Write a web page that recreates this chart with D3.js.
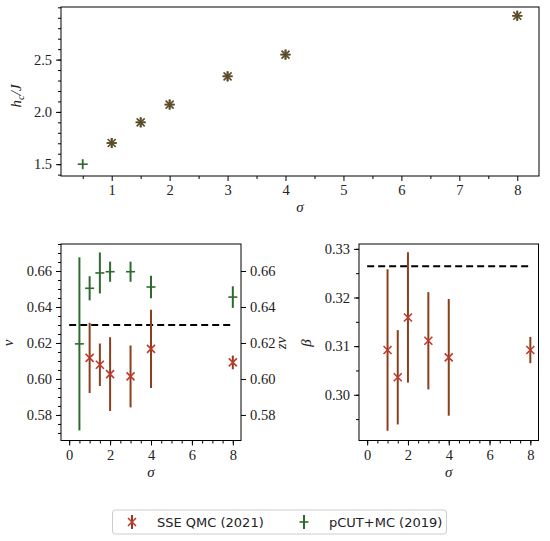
<!DOCTYPE html>
<html>
<head>
<meta charset="utf-8">
<script src="https://cdn.jsdelivr.net/npm/d3@7"></script>
<style>
  body { margin: 0; background: #fff; }
  svg text { font-family: "Liberation Serif", serif; fill: #222; }
  .leg text { font-family: "DejaVu Sans", sans-serif; }
</style>
</head>
<body>
<div id="chart"></div>
<script>
// data
var sigmaSSE = [1, 1.5, 2, 3, 4, 8];
var sigmaCUT = [0.5, 1, 1.5, 2, 3, 4, 8];
var hcSSE = [1.702, 1.90, 2.07, 2.34, 2.548, 2.919];
var hcCUT = [1.50, 1.702, 1.90, 2.07, 2.34, 2.548, 2.919];
var nuSSE = [0.6117, 0.6079, 0.6027, 0.6014, 0.6167, 0.6092];
var nuErr = [0.0195, 0.0118, 0.0205, 0.0172, 0.0217, 0.0038];
var zNuCUT = [0.6195, 0.6504, 0.6589, 0.6596, 0.6596, 0.6511, 0.6455];
var zNuErr = [0.0481, 0.0067, 0.0114, 0.0056, 0.0056, 0.0063, 0.0060];
var betaSSE = [0.3092, 0.3036, 0.3159, 0.3111, 0.3077, 0.3092];
var betaErr = [0.0166, 0.0097, 0.0134, 0.0100, 0.0120, 0.0027];
var nuRef = 0.63, betaRef = 0.3264;
var legendLabels = ["SSE QMC (2021)", "pCUT+MC (2019)"];

var red = "#c0392b", redBar = "#8b3f1c", green = "#2e6a2e";
var serif = "'Liberation Serif', 'Times New Roman', serif";

var svg = d3.select("#chart").append("svg")
  .attr("width", 550).attr("height", 541);

// style tick labels of an axis group
function styleTicks(sel) {
  sel.attr("font-family", serif).attr("font-size", 14.5);
  sel.selectAll("text").attr("font-family", serif).attr("font-size", 14.5).attr("fill", "#222");
}

// draw a framed axis box with outward ticks
function panel(x, y, box, opt) {
  var g = svg.append("g");
  var xAx = d3.axisBottom(x).tickValues(opt.xMajor).tickFormat(opt.xFmt).tickSizeOuter(0).tickSize(5).tickPadding(4);
  var yAx = d3.axisLeft(y).tickValues(opt.yMajor).tickFormat(opt.yFmt).tickSizeOuter(0).tickSize(5).tickPadding(4);
  var gx = g.append("g").attr("transform", "translate(0," + box.b + ")").call(xAx);
  var gy = g.append("g").attr("transform", "translate(" + box.l + ",0)").call(yAx);
  styleTicks(gx); styleTicks(gy);
  g.append("g").attr("transform", "translate(0," + box.b + ")")
    .call(d3.axisBottom(x).tickValues(opt.xMinor).tickFormat("").tickSize(3).tickSizeOuter(0));
  g.append("g").attr("transform", "translate(" + box.l + ",0)")
    .call(d3.axisLeft(y).tickValues(opt.yMinor).tickFormat("").tickSize(3).tickSizeOuter(0));
  g.selectAll(".domain").remove();
  g.append("rect").attr("x", box.l).attr("y", box.t)
    .attr("width", box.r - box.l).attr("height", box.b - box.t)
    .attr("fill", "none").attr("stroke", "#000").attr("stroke-width", 1);
  return g;
}

function range(a, b, s) { return d3.range(a, b + s / 2, s); }

function crossX(g, cx, cy, s, col) {
  g.append("path").attr("d", "M" + (cx - s) + "," + (cy - s) + "L" + (cx + s) + "," + (cy + s) +
    "M" + (cx - s) + "," + (cy + s) + "L" + (cx + s) + "," + (cy - s))
    .attr("stroke", col).attr("stroke-width", 1.6).attr("fill", "none");
}
function dash(g, cx, cy, s, col) {
  g.append("line").attr("x1", cx - s).attr("x2", cx + s).attr("y1", cy).attr("y2", cy)
    .attr("stroke", col).attr("stroke-width", 1.6);
}
function label(x, y, rot, html) {
  svg.append("text").attr("transform", "translate(" + x + "," + y + ")" + (rot ? " rotate(-90)" : ""))
    .attr("text-anchor", "middle").attr("font-family", serif)
    .style("font-size", "15px").style("font-style", "italic").html(html);
}

// ---- top panel: h_c / J
var tb = { l: 61, r: 539, t: 7, b: 176 };
var xT = d3.scaleLinear().domain([0.125, 8.375]).range([tb.l, tb.r]);
var yT = d3.scaleLinear().domain([1.387, 3.003]).range([tb.b, tb.t]);
var gT = panel(xT, yT, tb, {
  xMajor: range(1, 8, 1), xMinor: range(0.5, 7.5, 1), xFmt: d3.format("d"),
  yMajor: [1.5, 2.0, 2.5], yMinor: range(1.4, 3.0, 0.1), yFmt: d3.format(".1f")
});
sigmaCUT.forEach(function(s, i) {
  var cx = xT(s), cy = yT(hcCUT[i]);
  gT.append("line").attr("x1", cx).attr("x2", cx).attr("y1", cy - 5).attr("y2", cy + 5)
    .attr("stroke", green).attr("stroke-width", 1.8);
  dash(gT, cx, cy, 5, green);
});
sigmaSSE.forEach(function(s, i) {
  var cx = xT(s), cy = yT(hcSSE[i]);
  crossX(gT, cx, cy, 4, "#5e4a28");
  gT.append("line").attr("x1", cx).attr("x2", cx).attr("y1", cy - 5).attr("y2", cy + 5)
    .attr("stroke", "#5e4a28").attr("stroke-width", 1.8);
  dash(gT, cx, cy, 5, "#5e4a28");
});
label(21, 96, true, 'h<tspan dy="3" font-size="11px">c</tspan><tspan dy="-3">/J</tspan>');
label((tb.l + tb.r) / 2, 212, false, "σ");

// ---- bottom left: nu and z nu
var lb = { l: 61, r: 241, t: 244, b: 440.5 };
var xL = d3.scaleLinear().domain([-0.4, 8.4]).range([lb.l, lb.r]);
var yL = d3.scaleLinear().domain([0.5658, 0.675]).range([lb.b, lb.t]);
var yL2 = d3.scaleLinear().domain([0.5658, 0.675]).range([lb.b, lb.t]);
var gL = panel(xL, yL, lb, {
  xMajor: [0, 2, 4, 6, 8], xMinor: range(0, 8, 0.5), xFmt: d3.format("d"),
  yMajor: [0.58, 0.60, 0.62, 0.64, 0.66], yMinor: range(0.57, 0.675, 0.005), yFmt: d3.format(".2f")
});
var gR2 = gL.append("g").attr("transform", "translate(" + lb.r + ",0)")
  .call(d3.axisRight(yL2).tickValues([0.58, 0.60, 0.62, 0.64, 0.66]).tickFormat(d3.format(".2f"))
    .tickSize(5).tickPadding(4).tickSizeOuter(0));
gR2.select(".domain").remove();
styleTicks(gR2);

gL.append("line").attr("x1", xL(0)).attr("x2", xL(8)).attr("y1", yL(nuRef)).attr("y2", yL(nuRef))
  .attr("stroke", "#000").attr("stroke-width", 2).attr("stroke-dasharray", "7,4");

sigmaCUT.forEach(function(s, i) {
  var cx = xL(s);
  gL.append("line").attr("x1", cx).attr("x2", cx)
    .attr("y1", yL2(zNuCUT[i] - zNuErr[i])).attr("y2", yL2(zNuCUT[i] + zNuErr[i]))
    .attr("stroke", green).attr("stroke-width", 2);
  dash(gL, cx, yL2(zNuCUT[i]), 4.5, green);
});
sigmaSSE.forEach(function(s, i) {
  var cx = xL(s);
  gL.append("line").attr("x1", cx).attr("x2", cx)
    .attr("y1", yL(nuSSE[i] - nuErr[i])).attr("y2", yL(nuSSE[i] + nuErr[i]))
    .attr("stroke", redBar).attr("stroke-width", 2);
  crossX(gL, cx, yL(nuSSE[i]), 4, red);
});
label(13, 343, true, "ν");
label(286, 343, true, "zν");
label((lb.l + lb.r) / 2, 477, false, "σ");

// ---- bottom right: beta
var rb = { l: 359, r: 538.5, t: 244, b: 440.5 };
var xR = d3.scaleLinear().domain([-0.4, 8.4]).range([rb.l, rb.r]);
var yR = d3.scaleLinear().domain([0.2906, 0.331]).range([rb.b, rb.t]);
var gR = panel(xR, yR, rb, {
  xMajor: [0, 2, 4, 6, 8], xMinor: range(0, 8, 0.5), xFmt: d3.format("d"),
  yMajor: [0.30, 0.31, 0.32, 0.33], yMinor: range(0.295, 0.33, 0.005), yFmt: d3.format(".2f")
});
gR.append("line").attr("x1", xR(0)).attr("x2", xR(8)).attr("y1", yR(betaRef)).attr("y2", yR(betaRef))
  .attr("stroke", "#000").attr("stroke-width", 2).attr("stroke-dasharray", "7,4");
sigmaSSE.forEach(function(s, i) {
  var cx = xR(s);
  gR.append("line").attr("x1", cx).attr("x2", cx)
    .attr("y1", yR(betaSSE[i] - betaErr[i])).attr("y2", yR(betaSSE[i] + betaErr[i]))
    .attr("stroke", redBar).attr("stroke-width", 2);
  crossX(gR, cx, yR(betaSSE[i]), 4, red);
});
label(311, 343, true, "β");
label((rb.l + rb.r) / 2, 477, false, "σ");

// ---- legend
var leg = svg.append("g").attr("class", "leg");
leg.append("rect").attr("x", 112.5).attr("y", 510).attr("width", 334).attr("height", 24).attr("rx", 3)
  .attr("fill", "#fff").attr("stroke", "#ccc");
var lx = [132, 304];
leg.append("line").attr("x1", lx[0]).attr("x2", lx[0]).attr("y1", 515).attr("y2", 529)
  .attr("stroke", redBar).attr("stroke-width", 2);
crossX(leg, lx[0], 522, 4, red);
leg.append("line").attr("x1", lx[1]).attr("x2", lx[1]).attr("y1", 515).attr("y2", 529)
  .attr("stroke", green).attr("stroke-width", 2);
dash(leg, lx[1], 522, 4.5, green);
legendLabels.forEach(function(t, i) {
  leg.append("text").attr("x", lx[i] + 25).attr("y", 527).style("font-size", "13px").text(t);
});
</script>
</body>
</html>
